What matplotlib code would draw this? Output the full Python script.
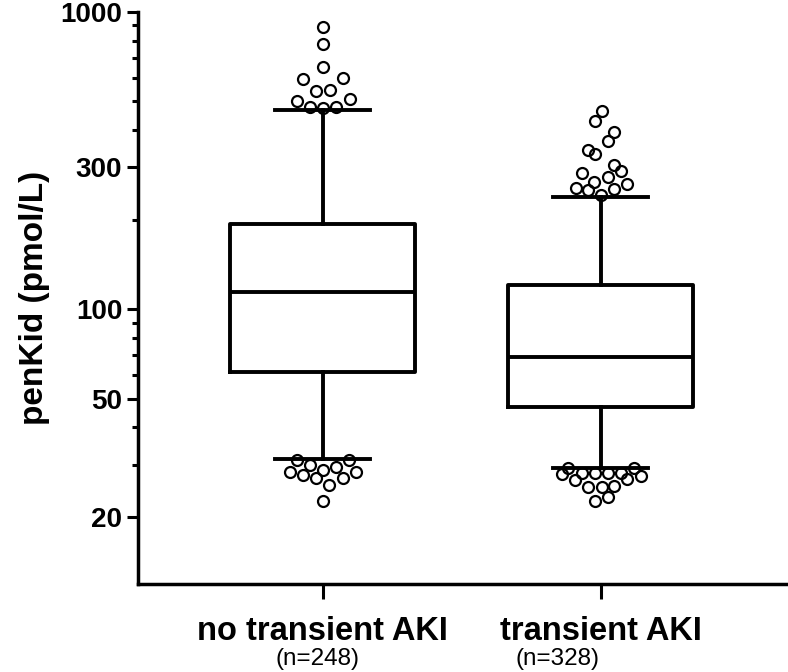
import numpy as np
import matplotlib.pyplot as plt
from matplotlib.ticker import FixedLocator, FixedFormatter, NullFormatter

plt.rcParams['font.family'] = ['Liberation Sans', 'DejaVu Sans']

groups = ["no transient AKI", "transient AKI"]
n_labels = ["(n=248)", "(n=328)"]

# box statistics (pmol/L)
whis_lo = [31.4, 29.2]
q1 = [61.4, 47.0]
med = [114.1, 68.9]
q3 = [193.9, 120.2]
whis_hi = [466.7, 238.3]

# outliers, values and horizontal scatter offsets
out_no = [886, 776, 653, 592, 597, 542, 545, 502, 507, 477, 473, 479,
          31.1, 31.1, 30.0, 29.5, 28.8, 28.3, 28.3, 27.7, 27.0, 27.1, 25.7, 22.7]
jit_no = [0, 0, 0, -0.070, 0.071, -0.024, 0.024, -0.094, 0.096, -0.046, 0.002, 0.048,
          -0.092, 0.095, -0.047, 0.047, 0.001, -0.119, 0.118, -0.071, -0.025, 0.071, 0.023, -0.001]
out_tr = [464, 430, 395, 367, 342, 332, 305, 291, 286, 277, 268, 263, 256, 251, 253, 242,
          29.2, 29.3, 27.9, 28.1, 28.1, 28.1, 28.1, 27.5, 26.6, 26.8, 25.3, 25.2, 25.5, 23.4, 22.7]
jit_tr = [0.003, -0.021, 0.048, 0.024, -0.047, -0.021, 0.048, 0.072, -0.069, 0.024, -0.024,
          0.095, -0.091, -0.047, 0.048, 0.0,
          -0.117, 0.119, -0.141, -0.069, -0.021, 0.024, 0.072, 0.143, -0.093, 0.095,
          -0.045, 0.003, 0.048, 0.024, -0.021]

major_ticks = [20, 50, 100, 300, 1000]
minor_ticks = [30, 40, 60, 70, 80, 90, 200, 400, 500, 600, 700, 800, 900]

fig = plt.figure(figsize=(7.88, 6.72), dpi=100)
ax = fig.add_axes([0.1745, 0.131, 0.8255, 0.8516])

pos = [1, 2]
stats = []
for i in range(2):
    stats.append(dict(whislo=whis_lo[i], q1=q1[i], med=med[i], q3=q3[i],
                      whishi=whis_hi[i], fliers=[]))

lw = 2.8
ax.bxp(stats, positions=pos, widths=0.666, capwidths=0.342, showfliers=False,
       boxprops=dict(color='black', lw=lw),
       medianprops=dict(color='black', lw=lw),
       whiskerprops=dict(color='black', lw=lw),
       capprops=dict(color='black', lw=lw), zorder=3)

for p, vals, jit in [(1, out_no, jit_no), (2, out_tr, jit_tr)]:
    xs = p + np.array(jit)
    ax.plot(xs, vals, 'o', ms=7.9, mfc='none', mec='black', mew=1.6,
            ls='none', zorder=2)

ax.set_yscale('log')
ax.set_ylim(11.9, 1000)
ax.set_xlim(0.333, 2.673)
ax.yaxis.set_major_locator(FixedLocator(major_ticks))
ax.yaxis.set_major_formatter(FixedFormatter([str(t) for t in major_ticks]))
ax.yaxis.set_minor_locator(FixedLocator(minor_ticks))
ax.yaxis.set_minor_formatter(NullFormatter())

ax.set_xticks(pos)
ax.set_xticklabels(groups, fontsize=23.5, fontweight='bold')
for t in ax.get_yticklabels():
    t.set_fontsize(20)
    t.set_fontweight('bold')

ax.tick_params(axis='y', which='major', length=8, width=2.2, pad=3)
ax.tick_params(axis='y', which='minor', length=4, width=2.2)
ax.tick_params(axis='x', which='major', length=11, width=2.2, pad=12)

for s in ['top', 'right']:
    ax.spines[s].set_visible(False)
for s in ['left', 'bottom']:
    ax.spines[s].set_linewidth(2.5)

ax.set_ylabel('penKid (pmol/L)', fontsize=24, fontweight='bold')
ax.yaxis.set_label_coords(-0.135, 0.5)

n_shift = [-0.02, -0.155]
for i in range(2):
    ax.text(pos[i] + n_shift[i], -0.151, n_labels[i], transform=ax.get_xaxis_transform(),
            ha='center', va='bottom', fontsize=17.5)

fig.savefig('out.png', dpi=100)
